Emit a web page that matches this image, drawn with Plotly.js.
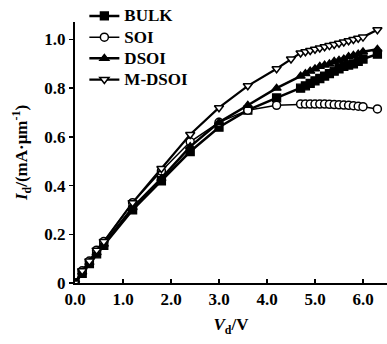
<!DOCTYPE html>
<html>
<head>
<meta charset="utf-8">
<script src="https://cdn.plot.ly/plotly-3.0.1.min.js"></script>
<style>html,body{margin:0;padding:0;background:#fff;}#chart{width:387px;height:344px;}</style>
</head>
<body>
<div id="chart"></div>
<script>
// Drain voltage (V)
const vdBase = [0, 0.15, 0.3, 0.45, 0.6, 1.2, 1.8, 2.4, 3.0, 3.6, 4.2,
  4.7, 4.8, 4.9, 5.0, 5.1, 5.2, 5.3, 5.4, 5.5, 5.6, 5.7, 5.8, 5.9, 6.0, 6.3];
const vdMDSOI = [0, 0.15, 0.3, 0.45, 0.6, 1.2, 1.8, 2.4, 3.0, 3.6, 4.2, 4.5,
  4.7, 4.8, 4.9, 5.0, 5.1, 5.2, 5.3, 5.4, 5.5, 5.6, 5.7, 5.8, 5.9, 6.0, 6.3];

// Drain current (mA/um)
const idBULK = [0, 0.04, 0.08, 0.12, 0.155, 0.30, 0.42, 0.54, 0.64, 0.71, 0.76,
  0.80, 0.81, 0.82, 0.83, 0.84, 0.85, 0.86, 0.87, 0.88, 0.89, 0.895, 0.90, 0.91, 0.92, 0.94];
const idSOI = [0, 0.05, 0.09, 0.135, 0.17, 0.33, 0.46, 0.58, 0.66, 0.71, 0.73,
  0.735, 0.735, 0.735, 0.735, 0.735, 0.735, 0.734, 0.733, 0.732, 0.731, 0.73, 0.728, 0.726, 0.724, 0.715];
const idDSOI = [0, 0.045, 0.085, 0.125, 0.16, 0.31, 0.43, 0.56, 0.66, 0.73, 0.80,
  0.85, 0.86, 0.87, 0.88, 0.89, 0.895, 0.90, 0.91, 0.915, 0.92, 0.93, 0.935, 0.94, 0.95, 0.96];
const idMDSOI = [0, 0.05, 0.09, 0.135, 0.17, 0.33, 0.47, 0.61, 0.72, 0.81, 0.88, 0.92,
  0.945, 0.95, 0.955, 0.96, 0.965, 0.97, 0.975, 0.98, 0.985, 0.99, 0.995, 1.0, 1.005, 1.01, 1.04];

const names = ["BULK", "SOI", "DSOI", "M-DSOI"];
const xTickVals = [0, 1, 2, 3, 4, 5, 6];
const xTickText = ["0.0", "1.0", "2.0", "3.0", "4.0", "5.0", "6.0"];
const yTickVals = [0, 0.2, 0.4, 0.6, 0.8, 1.0];
const yTickText = ["0", "0.2", "0.4", "0.6", "0.8", "1.0"];

const fam = "Liberation Serif, Times New Roman, serif";
const mk = (sym) => ({symbol: sym, size: 8, color: "#000", line: {color: "#000", width: 1.3}});
const wmk = (sym) => ({symbol: sym, size: 8, color: "#fff", line: {color: "#000", width: 1.5}});
const big = (s) => '<span style="font-size:17px">' + s + '</span>';

const traces = [
  {x: vdBase, y: idBULK, name: big(names[0]), mode: "lines+markers", line: {color: "#000", width: 2.5}, marker: mk("square")},
  {x: vdBase, y: idSOI, name: big(names[1]), mode: "lines+markers", line: {color: "#000", width: 1.5}, marker: wmk("circle")},
  {x: vdBase, y: idDSOI, name: big(names[2]), mode: "lines+markers", line: {color: "#000", width: 2.5}, marker: mk("triangle-up")},
  {x: vdMDSOI, y: idMDSOI, name: big(names[3]), mode: "lines+markers", line: {color: "#000", width: 2.2}, marker: wmk("triangle-down")}
];

const bold16 = {family: fam, size: 17, color: "#000", weight: "bold"};

const layout = {
  width: 387, height: 344,
  margin: {l: 75, r: 0, t: 15, b: 61},
  paper_bgcolor: "#fff", plot_bgcolor: "#fff",
  font: {family: fam, size: 16, color: "#000"},
  showlegend: true,
  legend: {x: 0.03, y: 1.083, xanchor: "left", yanchor: "top", bgcolor: "rgba(0,0,0,0)",
    font: {family: fam, size: 14, color: "#000", weight: "bold"}, tracegroupgap: 0},
  xaxis: {
    range: [0, 6.5], tickvals: xTickVals, ticktext: xTickText,
    showgrid: false, zeroline: false, showline: true, linecolor: "#000", linewidth: 2,
    ticks: "inside", ticklen: 4, tickwidth: 1.5, tickcolor: "#000",
    tickfont: bold16,
    title: {text: "<i>V</i><sub>d</sub>/V", font: bold16, standoff: 10}
  },
  yaxis: {
    range: [0, 1.072], tickvals: yTickVals, ticktext: yTickText,
    showgrid: false, zeroline: false, showline: true, linecolor: "#000", linewidth: 2,
    ticks: "outside", ticklen: 4, tickwidth: 1.5, tickcolor: "#000",
    tickfont: bold16,
    title: {text: "<i>I</i><sub>d</sub>/(mA·μm<sup>-1</sup>)", font: bold16, standoff: 12}
  }
};

Plotly.newPlot("chart", traces, layout, {displayModeBar: false, staticPlot: true});
</script>
</body>
</html>
